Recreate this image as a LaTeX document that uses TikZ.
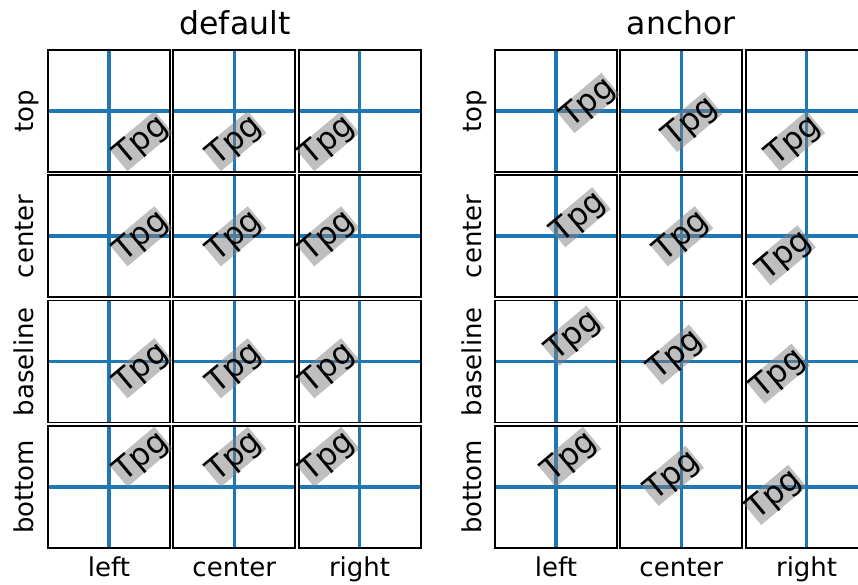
\documentclass[tikz,border=0pt]{standalone}
\usepackage{fontspec}
\setmainfont{DejaVu Sans}
\definecolor{mplblue}{HTML}{1F77B4}
\newlength\tpgw
\begin{document}
\settowidth{\tpgw}{\fontsize{31.5}{31.5}\selectfont Tpg}%
\begin{tikzpicture}[x=1pt,y=1pt,
  frame/.style={draw=black, line width=1.8pt},
  blueline/.style={draw=mplblue, line width=3.6pt},
  tpg/.style={inner sep=0pt, outer sep=0pt, text height=23.4pt, text depth=5.4pt,
    fill=gray, fill opacity=0.5, text opacity=1, rotate=40,
    font=\fontsize{31.5}{31.5}\selectfont},
  lab/.style={font=\fontsize{26}{26}\selectfont, inner sep=0pt},
  ttl/.style={font=\fontsize{31.5}{31.5}\selectfont, inner sep=0pt}]
\useasboundingbox (0,0) rectangle (858,585);
\clip (0,0) rectangle (858,585);
\fill[white] (0,0) rectangle (858,585);
\pgfmathsetmacro\ta{23.4}
\pgfmathsetmacro\td{5.4}
\pgfmathsetmacro\Wb{\tpgw*cos(40)+(\ta+\td)*sin(40)}
\pgfmathsetmacro\Hb{\tpgw*sin(40)+(\ta+\td)*cos(40)}
% ---------- default grid ----------
\foreach \va/\vp/\vq [count=\i from 0] in {top/-1/0, center/0/0, baseline/-1/1, bottom/1/0} {
  \foreach \ha/\hf [count=\j from 0] in {left/1, center/0, right/-1} {
    \pgfmathsetmacro\xo{48+125.3*\j}
    \pgfmathsetmacro\yt{535-125.3*\i}
    \pgfmathsetmacro\cx{\xo+61+\hf*\Wb/2}
    \pgfmathsetmacro\cy{\yt-61+\vp*\Hb/2+\vq*\ta}
    \fill[white] (\xo,\yt-122) rectangle ++(122,122);
    \draw[blueline] (\xo+61,\yt) -- (\xo+61,\yt-122);
    \draw[blueline] (\xo,\yt-61) -- (\xo+122,\yt-61);
    \draw[frame] (\xo,\yt-122) rectangle ++(122,122);
    \node[tpg] (d-\i-\j) at (\cx, \cy) {Tpg};
  }
  \node[lab, rotate=90, anchor=base] (dl-\i) at (33, 535-125.3*\i-61) {\va};
}
\foreach \ha [count=\j from 0] in {left, center, right} {
  \node[lab, anchor=base] (dx-\j) at (48+125.3*\j+61, 8) {\ha};
}
\node[ttl, anchor=base] (dtitle) at (235, 550) {default};
% ---------- anchor grid ----------
\foreach \va/\anw/\anc/\ane [count=\i from 0] in {top/north west/north/north east,
    center/west/center/east, baseline/base west/base/base east,
    bottom/south west/south/south east} {
  \foreach \ha/\an [count=\j from 0] in {left/\anw, center/\anc, right/\ane} {
    \pgfmathsetmacro\xo{495+125.3*\j}
    \pgfmathsetmacro\yt{535-125.3*\i}
    \fill[white] (\xo,\yt-122) rectangle ++(122,122);
    \draw[blueline] (\xo+61,\yt) -- (\xo+61,\yt-122);
    \draw[blueline] (\xo,\yt-61) -- (\xo+122,\yt-61);
    \draw[frame] (\xo,\yt-122) rectangle ++(122,122);
    \node[tpg, anchor=\an] (a-\i-\j) at (\xo+61, \yt-61) {Tpg};
  }
  \node[lab, rotate=90, anchor=base] (al-\i) at (481, 535-125.3*\i-61) {\va};
}
\foreach \ha [count=\j from 0] in {left, center, right} {
  \node[lab, anchor=base] (ax-\j) at (495+125.3*\j+61, 8) {\ha};
}
\node[ttl, anchor=base] (atitle) at (681.3, 550) {anchor};
\end{tikzpicture}
\end{document}
